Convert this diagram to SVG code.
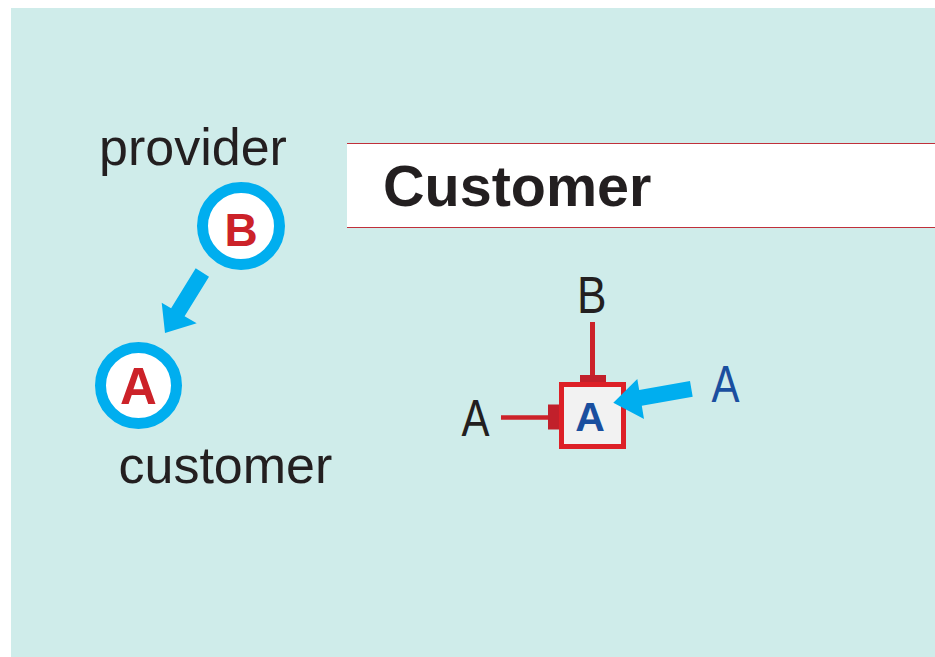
<svg xmlns="http://www.w3.org/2000/svg" width="935" height="657" viewBox="0 0 935 657">
<style>
.lbl{font-family:"Liberation Sans",Arial,sans-serif;fill:#231f20}
.bold{font-family:"Liberation Sans",Arial,sans-serif;font-weight:bold}
.ring{fill:#ffffff;stroke:#00aeef;stroke-width:11}
.red{fill:#cc2229}
.blue{fill:#1a4f9f}
.arrow{fill:#00aeef}
.wire{stroke:#cc2229;fill:none}
</style>
<rect x="0" y="0" width="935" height="657" fill="#ffffff"/>
<rect x="11" y="8" width="924" height="649" fill="#cfecea"/>
<g id="header">
<rect x="347" y="143.5" width="588" height="84" fill="#ffffff"/>
<line x1="347" y1="143.5" x2="935" y2="143.5" stroke="#c0303a" stroke-width="1.2"/>
<line x1="347" y1="227.5" x2="935" y2="227.5" stroke="#c0303a" stroke-width="1.2"/>
<text class="bold" x="383" y="206" font-size="57.5" fill="#231f20">Customer</text>
</g>
<g id="node-provider">
<text class="lbl" x="99" y="165" font-size="52">provider</text>
<circle class="ring" cx="241" cy="226" r="38.5"/>
<text class="bold red" x="241" y="246" font-size="46" text-anchor="middle">B</text>
</g>
<g id="node-customer">
<circle class="ring" cx="138.5" cy="385.5" r="38"/>
<text class="bold red" x="138.5" y="404" font-size="51" text-anchor="middle">A</text>
<text class="lbl" x="118.5" y="483" font-size="52">customer</text>
</g>
<g id="node-box">
<rect x="561.5" y="384.5" width="62" height="62" fill="#f2f2f2" stroke="#dd2027" stroke-width="5"/>
<text class="bold blue" x="590" y="431" font-size="41" text-anchor="middle">A</text>
<text class="lbl" x="577" y="313" font-size="51" textLength="29.5" lengthAdjust="spacingAndGlyphs">B</text>
<text class="lbl" x="461.5" y="435.5" font-size="52" textLength="28" lengthAdjust="spacingAndGlyphs">A</text>
<text class="lbl" x="711.5" y="401.5" font-size="52" textLength="28" lengthAdjust="spacingAndGlyphs" style="fill:#1a4f9f">A</text>
</g>
<g id="connectors">
<polygon class="arrow" points="195.7,268.3 209,276.7 184.6,316.2 196.7,323.3 165,333 161.7,302.7 171.1,308.2"/>
<line class="wire" x1="592.5" y1="322" x2="592.5" y2="376" stroke-width="5"/>
<rect x="580" y="375" width="26" height="7" fill="#c1202b"/>
<line class="wire" x1="501" y1="417.5" x2="549" y2="417.5" stroke-width="4.5"/>
<rect x="548" y="404.5" width="11" height="25" fill="#c1202b"/>
<polygon class="arrow" points="690,381 639.2,390.1 637.3,379 613.3,402.7 644,419 641.8,405.8 692.7,396.7"/>
</g>
</svg>
